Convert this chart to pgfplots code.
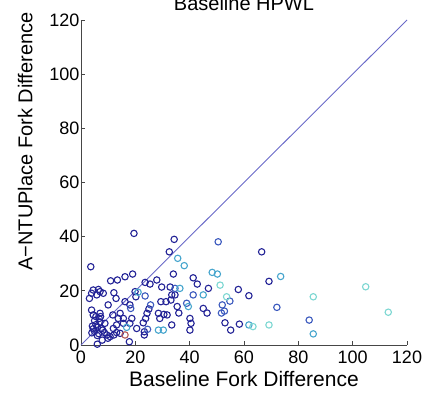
\documentclass[border=0pt]{standalone}
\usepackage{fontspec}
\setmainfont{Liberation Sans}
\usepackage{pgfplots}
\pgfplotsset{compat=1.18}
\definecolor{cA}{RGB}{35,35,150}
\definecolor{cB}{RGB}{60,90,190}
\definecolor{cC}{RGB}{70,165,205}
\definecolor{cD}{RGB}{125,215,210}
\definecolor{cR}{RGB}{180,90,90}
\definecolor{diag}{RGB}{105,105,200}
\definecolor{axc}{RGB}{70,70,70}
\begin{document}
\begin{tikzpicture}
\begin{axis}[
  scale only axis, width=326pt, height=325pt,
  xmin=0, xmax=120, ymin=0, ymax=120,
  xtick={0,20,...,120}, ytick={0,20,...,120},
  axis lines*=left, axis line style={axc, line width=0.8pt, -},
  tick style={axc, line width=0.8pt}, tickwidth=4pt, tick align=inside,
  /pgf/number format/assume math mode=true,
  ticklabel style={font=\fontsize{18}{18}\selectfont, text=black},
  xticklabel style={yshift=-2pt},
  yticklabel style={xshift=2pt},
  xlabel={Baseline Fork Difference},
  ylabel={A\textminus NTUPlace Fork Difference},
  xlabel style={font=\fontsize{21}{21}\selectfont, yshift=-1pt},
  ylabel style={font=\fontsize{20}{20}\selectfont, yshift=10pt, xshift=41pt},
  clip=false,
]
\addplot[diag, line width=0.9pt, sharp plot, mark=none] coordinates {(0,0) (120,120)};
\pgfplotsset{every axis plot/.append style={only marks, mark=o, mark size=3.2pt, line width=1.1pt}}
\addplot[cA] coordinates {
(19.5,41.2) (3.6,28.9) (34.3,39) (32.5,34.4) (34,26.2) (19,26.2) (16.2,25.2) (13.4,24) (10.9,23.7) (27.9,24) (23.6,23.1) (25.4,22.5) (41.3,24.8) (42.8,22.5)
(3.1,17.2) (3.9,19.1) (4.5,20.3) (6.4,20.5) (5.8,18.5) (7,19.7) (8.2,19.1) (12.1,19.3) (12.9,17.2) (19.9,19.7) (20.2,17.8) (16.2,16) (18,14.8) (10,14.8)
(3.9,12.9) (4.5,11.1) (7,11.7) (6.7,9.8) (11.7,11.1) (14.4,11.7) (13.7,9.8) (15.6,9.8) (18.7,9.8) (18,8) (15.6,8) (20.5,6.1) (13.1,7.4) (11.9,6.1) (8.8,8)
(4.5,6) (5,5) (6,6.5) (4,4.5) (6.5,4.2) (7.5,6) (5.5,7.5) (8.6,4.6) (9.5,3.7) (10.7,3.1) (12.1,3.7) (13.1,4.6) (14.4,4.3) (17.8,1.2) (6,0.3) (7.8,1.8) (9.9,2.5)
(5,9) (7,8.5) (6,3.5) (4.2,7) (8,5.5) (5.5,10.5) (7.2,10.5)
(23.3,3.7) (23.3,4.9) (22.9,8.2) (23.8,9.8) (24.3,11.7) (25,13.3) (28.5,11.7) (29,9.8) (30.5,11.3) (31.7,11.1) (29.4,16) (31.3,16) (33.1,16.6) (33.4,18.5) (34.6,18.5)
(32.8,21.4) (29.7,21.4) (35.4,14.2) (36,11.8) (33.4,7.4) (40.1,9.8) (40.5,8) (40.1,5.5) (45,13.5) (46.4,11.8) (53,8.2) (55.1,5.5) (58.3,7.7) (61.8,18.2) (57.9,20.5)
(46.9,20.9) (69.2,23.5) (66.5,34.4)
};
\addplot[cB] coordinates {
(23.6,18.1) (18.3,13.5) (25.6,14.8) (24.5,5.8) (34.6,20.9) (38.9,15.4) (41.3,18.5) (50.5,38.1) (52,14.8) (52.8,12.5) (54.8,16.2) (51.7,11.8) (72.1,13.9) (84,9.2)
};
\addplot[cC] coordinates {
(35.6,32) (16.8,6.5) (38,29.3) (36.4,20.9) (39.5,14.2) (45,18.5) (48.3,26.8) (50.2,26.2) (30.3,5.5) (28.5,5.5) (61.8,7.4) (85.5,4.1) (73.5,25.3) (21,19.5)
};
\addplot[cD] coordinates {
(51.2,22.1) (53.6,17.8) (63.3,6.8) (69.2,7.4) (85.5,17.8) (104.8,21.5) (113.1,12.1)
};
\addplot[cR] coordinates {(16.2,3.7)};
\node[anchor=base, font=\fontsize{20}{20}\selectfont] at (rel axis cs:0.5,1) [yshift=9pt] {Baseline HPWL};
\end{axis}
\pgfresetboundingbox
\useasboundingbox (-81pt,-50pt) rectangle (345pt,345pt);
\end{tikzpicture}
\end{document}
